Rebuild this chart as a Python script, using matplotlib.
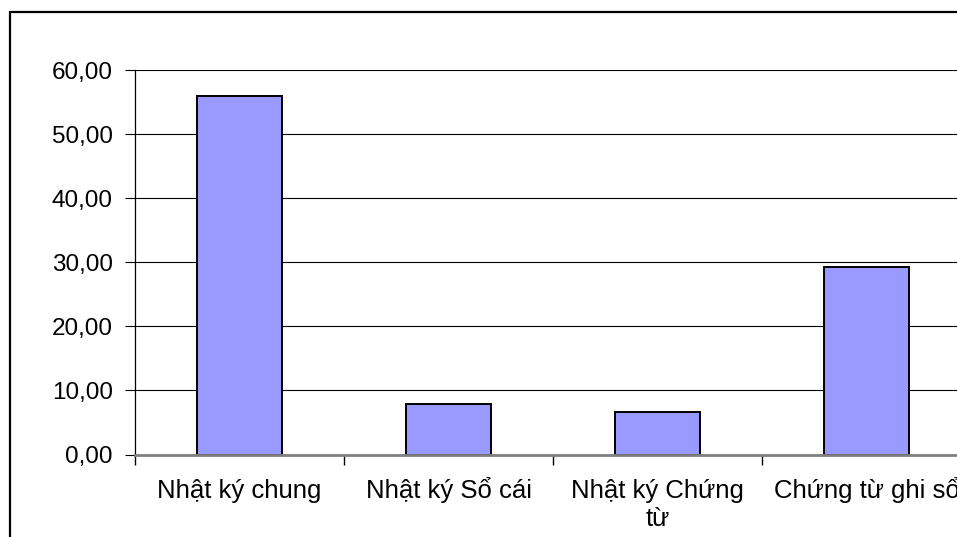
import matplotlib
matplotlib.use("Agg")
import matplotlib.pyplot as plt
from matplotlib.patches import Rectangle
from matplotlib.ticker import FixedLocator, FuncFormatter
from matplotlib.transforms import blended_transform_factory, offset_copy

# Accounting ledger forms and their shares (%)
categories = ["Nhật ký chung", "Nhật ký Sổ cái", "Nhật ký Chứng\ntừ", "Chứng từ ghi sổ"]
values = [55.9, 7.9, 6.7, 29.3]
y_ticks = [0, 10, 20, 30, 40, 50, 60]

plt.rcParams["font.family"] = ["Liberation Sans", "DejaVu Sans"]
FS_Y = 17.5
FS_X = 18.5

W, H = 957, 537
fig = plt.figure(figsize=(W / 100, H / 100), dpi=100)
fig.patch.set_facecolor("white")

# chart frame, running off the right and bottom edges
fig.patches.append(Rectangle((10 / W, -0.1), 1.2, 1.1 - 12 / H, transform=fig.transFigure,
                             fill=False, edgecolor="black", linewidth=1.6, zorder=0))

left, right, bottom, top = 135, 971, 454.5, 70
ax = fig.add_axes([left / W, (H - bottom) / H, (right - left) / W, (bottom - top) / H])
ax.set_facecolor("none")

x = list(range(len(categories)))
ax.bar(x, values, width=0.41, color="#9999FF", edgecolor="black", linewidth=1.4, zorder=3)

ax.set_xlim(-0.5, len(categories) - 0.5)
ax.set_ylim(0, 60)

ax.yaxis.set_major_locator(FixedLocator(y_ticks))
ax.yaxis.set_major_formatter(FuncFormatter(lambda v, p: f"{v:.2f}".replace(".", ",")))
ax.grid(axis="y", color="black", linewidth=0.8, zorder=1)

# category boundaries carry the tick marks; names sit on a shared baseline
ax.set_xticks([])
ax.set_xticks([i - 0.5 for i in range(len(categories) + 1)], minor=True)
ax.tick_params(axis="x", which="minor", length=7, width=1, color="black", direction="out")
ax.tick_params(axis="y", which="major", length=7, width=0.8, direction="out",
               labelsize=FS_Y, pad=9)

trans = blended_transform_factory(ax.transData, ax.transAxes)
for xi, name in zip(x, categories):
    for k, line in enumerate(name.split("\n")):
        t = offset_copy(trans, fig=fig, x=0, y=-(43.5 + 27.5 * k), units="dots")
        ax.text(xi, 0, line, transform=t, ha="center", va="baseline",
                fontsize=FS_X, clip_on=False)

for side in ("top", "right"):
    ax.spines[side].set_visible(False)
ax.spines["left"].set_linewidth(0.9)
ax.spines["left"].set_color("black")
ax.spines["bottom"].set_linewidth(2.0)
ax.spines["bottom"].set_color("#808080")
ax.spines["bottom"].set_zorder(4)

fig.savefig("out.png", dpi=100)
